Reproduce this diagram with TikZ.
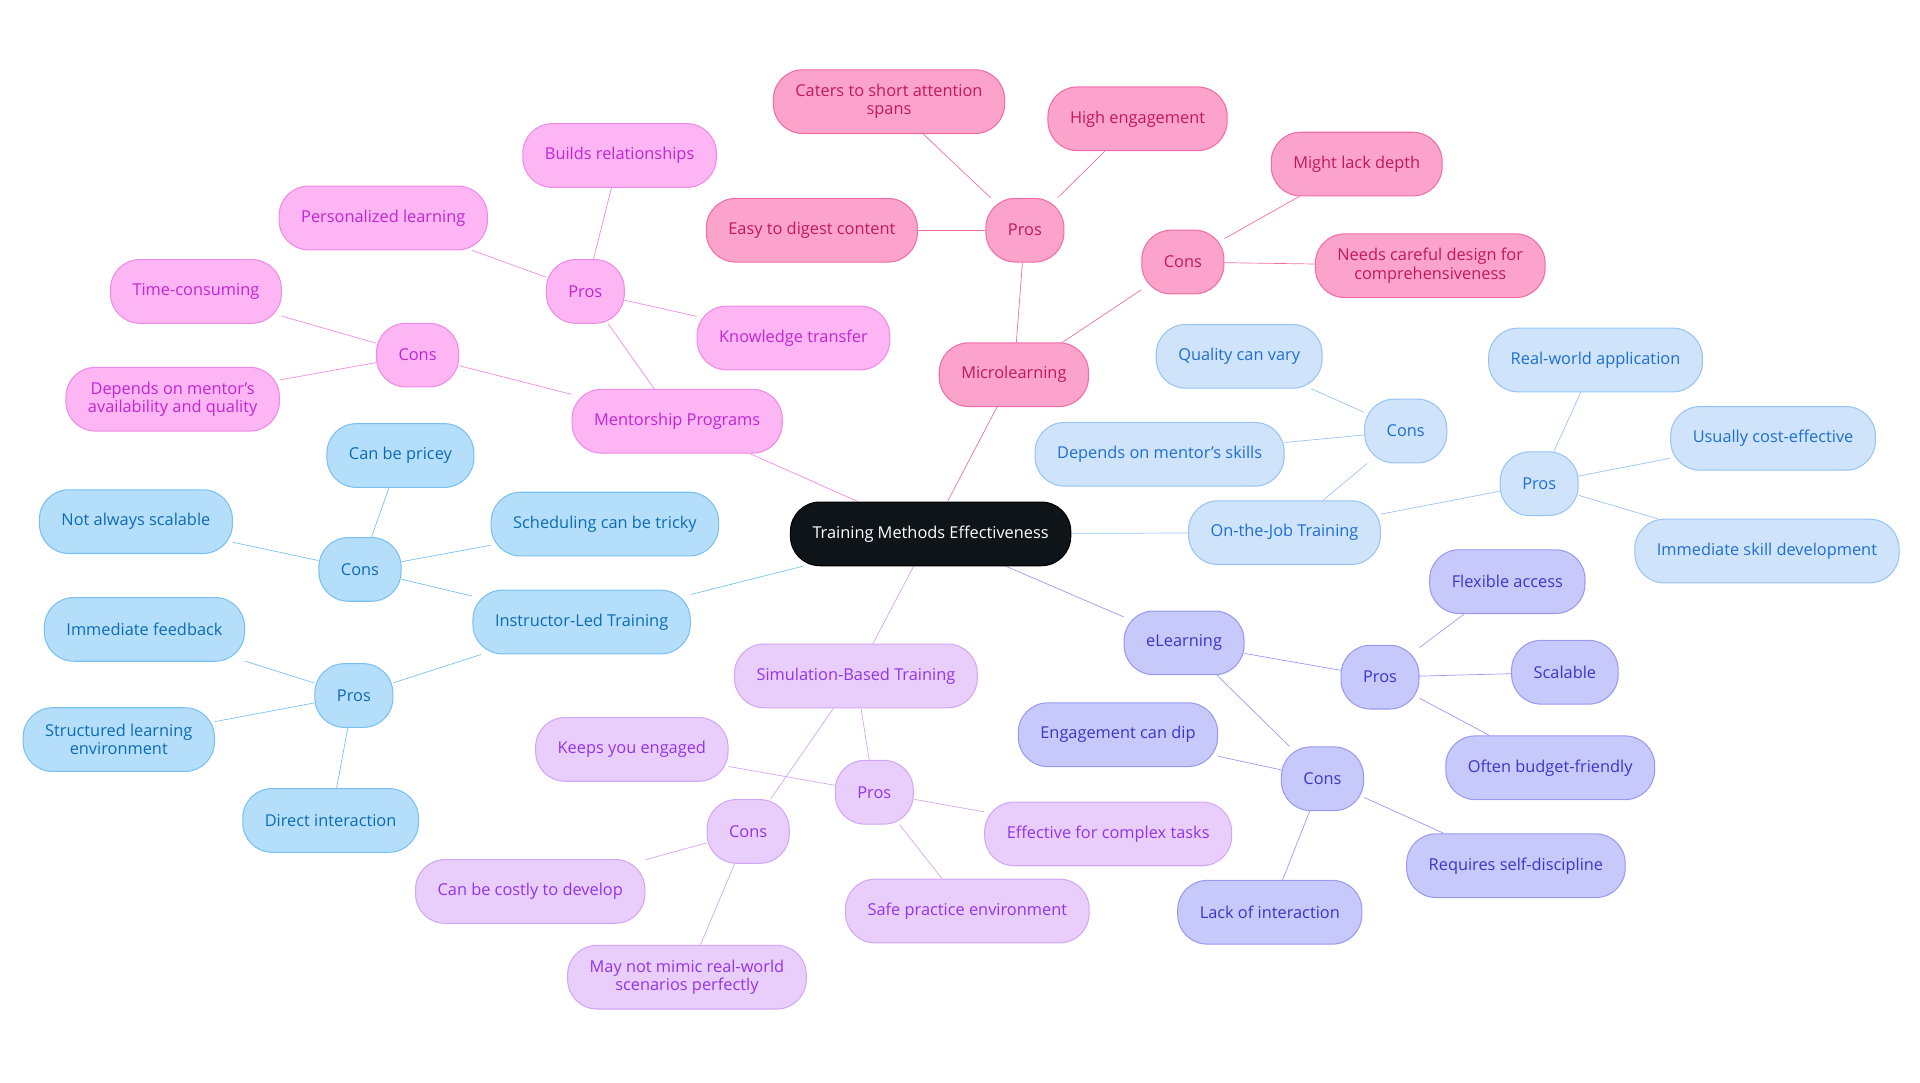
\documentclass[tikz,border=0pt]{standalone}
\usepackage{fontspec}
\setmainfont{Open Sans}
\usetikzlibrary{backgrounds}
\definecolor{rootC}{HTML}{0F1419}
\definecolor{mcF}{HTML}{FBA3CB}\definecolor{mcD}{HTML}{F06DA8}\definecolor{mcT}{HTML}{C2185B}
\definecolor{mtF}{HTML}{FDB5F4}\definecolor{mtD}{HTML}{EE8BE4}\definecolor{mtT}{HTML}{C026D3}
\definecolor{ilF}{HTML}{B5DEFB}\definecolor{ilD}{HTML}{78C0F2}\definecolor{ilT}{HTML}{0B6CB5}
\definecolor{ojF}{HTML}{CFE3FB}\definecolor{ojD}{HTML}{99C3F3}\definecolor{ojT}{HTML}{1E6FD0}
\definecolor{elF}{HTML}{C8C9FB}\definecolor{elD}{HTML}{989AF0}\definecolor{elT}{HTML}{3D34C9}
\definecolor{sbF}{HTML}{E9CEFB}\definecolor{sbD}{HTML}{D3A6F5}\definecolor{sbT}{HTML}{9333EA}
\tikzset{
  box/.style={rounded corners=0.6cm,draw,line width=0.6pt,minimum height=1.3cm,
    inner xsep=0.45cm,align=center,font=\fontsize{9.5}{10.5}\selectfont},
  root/.style={box,fill=rootC,text=white},
  mc/.style={box,fill=mcF,draw=mcD,text=mcT},
  mt/.style={box,fill=mtF,draw=mtD,text=mtT},
  il/.style={box,fill=ilF,draw=ilD,text=ilT},
  oj/.style={box,fill=ojF,draw=ojD,text=ojT},
  el/.style={box,fill=elF,draw=elD,text=elT},
  sb/.style={box,fill=sbF,draw=sbD,text=sbT},
}
\begin{document}
\begin{tikzpicture}[x=0.025cm,y=-0.025cm]
	\useasboundingbox (0,0) rectangle (1568,884);
	\node[root] (tme) at (760,436) {Training Methods Effectiveness};
	
	% Microlearning
	\node[mc] (micro) at (828,306) {Microlearning};
	\node[mc] (mcpro) at (837,188) {Pros};
	\node[mc] (mcp1) at (726,83) {Caters to short attention\\spans};
	\node[mc] (mcp2) at (929,97) {High engagement};
	\node[mc] (mcp3) at (663,188) {Easy to digest content};
	\node[mc] (mccon) at (966,214) {Cons};
	\node[mc] (mcc1) at (1108,134) {Might lack depth};
	\node[mc] (mcc2) at (1168,217) {Needs careful design for\\comprehensiveness};
	
	% Mentorship
	\node[mt] (mentor) at (553,344) {Mentorship Programs};
	\node[mt] (mtpro) at (478,238) {Pros};
	\node[mt] (mtp1) at (506,127) {Builds relationships};
	\node[mt] (mtp2) at (313,178) {Personalized learning};
	\node[mt] (mtp3) at (648,276) {Knowledge transfer};
	\node[mt] (mtcon) at (341,290) {Cons};
	\node[mt] (mtc1) at (160,238) {Time-consuming};
	\node[mt] (mtc2) at (141,326) {Depends on mentor's\\availability and quality};
	
	% Instructor-Led
	\node[il] (ilt) at (475,508) {Instructor-Led Training};
	\node[il] (ilcon) at (294,465) {Cons};
	\node[il] (ilc1) at (327,372) {Can be pricey};
	\node[il] (ilc2) at (111,426) {Not always scalable};
	\node[il] (ilc3) at (494,428) {Scheduling can be tricky};
	\node[il] (ilpro) at (289,568) {Pros};
	\node[il] (ilp1) at (118,514) {Immediate feedback};
	\node[il] (ilp2) at (97,604) {Structured learning\\environment};
	\node[il] (ilp3) at (270,670) {Direct interaction};
	
	% On-the-Job
	\node[oj] (ojt) at (1049,435) {On-the-Job Training};
	\node[oj] (ojcon) at (1148,352) {Cons};
	\node[oj] (ojc1) at (1012,291) {Quality can vary};
	\node[oj] (ojc2) at (947,371) {Depends on mentor's skills};
	\node[oj] (ojpro) at (1257,395) {Pros};
	\node[oj] (ojp1) at (1303,294) {Real-world application};
	\node[oj] (ojp2) at (1448,358) {Usually cost-effective};
	\node[oj] (ojp3) at (1443,450) {Immediate skill development};
	
	% eLearning
	\node[el] (elearn) at (967,525) {eLearning};
	\node[el] (elpro) at (1127,553) {Pros};
	\node[el] (elp1) at (1231,475) {Flexible access};
	\node[el] (elp2) at (1278,549) {Scalable};
	\node[el] (elp3) at (1266,627) {Often budget-friendly};
	\node[el] (elcon) at (1080,636) {Cons};
	\node[el] (elc1) at (913,600) {Engagement can dip};
	\node[el] (elc2) at (1238,707) {Requires self-discipline};
	\node[el] (elc3) at (1037,745) {Lack of interaction};
	
	% Simulation
	\node[sb] (sim) at (699,552) {Simulation-Based Training};
	\node[sb] (sbpro) at (714,647) {Pros};
	\node[sb] (sbp1) at (516,612) {Keeps you engaged};
	\node[sb] (sbp2) at (905,681) {Effective for complex tasks};
	\node[sb] (sbp3) at (790,744) {Safe practice environment};
	\node[sb] (sbcon) at (611,679) {Cons};
	\node[sb] (sbc1) at (433,728) {Can be costly to develop};
	\node[sb] (sbc2) at (561,798) {May not mimic real-world\\scenarios perfectly};
	
	\begin{scope}[on background layer,line width=1.2pt]
	\draw[mcD] (tme) -- (micro) (micro) -- (mcpro) (micro) -- (mccon);
	\foreach \n in {mcp1,mcp2,mcp3} \draw[mcD] (mcpro) -- (\n);
	\foreach \n in {mcc1,mcc2} \draw[mcD] (mccon) -- (\n);
	\draw[mtD] (tme) -- (mentor) (mentor) -- (mtpro) (mentor) -- (mtcon);
	\foreach \n in {mtp1,mtp2,mtp3} \draw[mtD] (mtpro) -- (\n);
	\foreach \n in {mtc1,mtc2} \draw[mtD] (mtcon) -- (\n);
	\draw[ilD] (tme) -- (ilt) (ilt) -- (ilcon) (ilt) -- (ilpro);
	\foreach \n in {ilc1,ilc2,ilc3} \draw[ilD] (ilcon) -- (\n);
	\foreach \n in {ilp1,ilp2,ilp3} \draw[ilD] (ilpro) -- (\n);
	\draw[ojD] (tme) -- (ojt) (ojt) -- (ojcon) (ojt) -- (ojpro);
	\foreach \n in {ojc1,ojc2} \draw[ojD] (ojcon) -- (\n);
	\foreach \n in {ojp1,ojp2,ojp3} \draw[ojD] (ojpro) -- (\n);
	\draw[elD] (tme) -- (elearn) (elearn) -- (elpro) (elearn) -- (elcon);
	\foreach \n in {elp1,elp2,elp3} \draw[elD] (elpro) -- (\n);
	\foreach \n in {elc1,elc2,elc3} \draw[elD] (elcon) -- (\n);
	\draw[sbD] (tme) -- (sim) (sim) -- (sbpro) (sim) -- (sbcon);
	\foreach \n in {sbp1,sbp2,sbp3} \draw[sbD] (sbpro) -- (\n);
	\foreach \n in {sbc1,sbc2} \draw[sbD] (sbcon) -- (\n);
	\end{scope}
\end{tikzpicture}
\end{document}
